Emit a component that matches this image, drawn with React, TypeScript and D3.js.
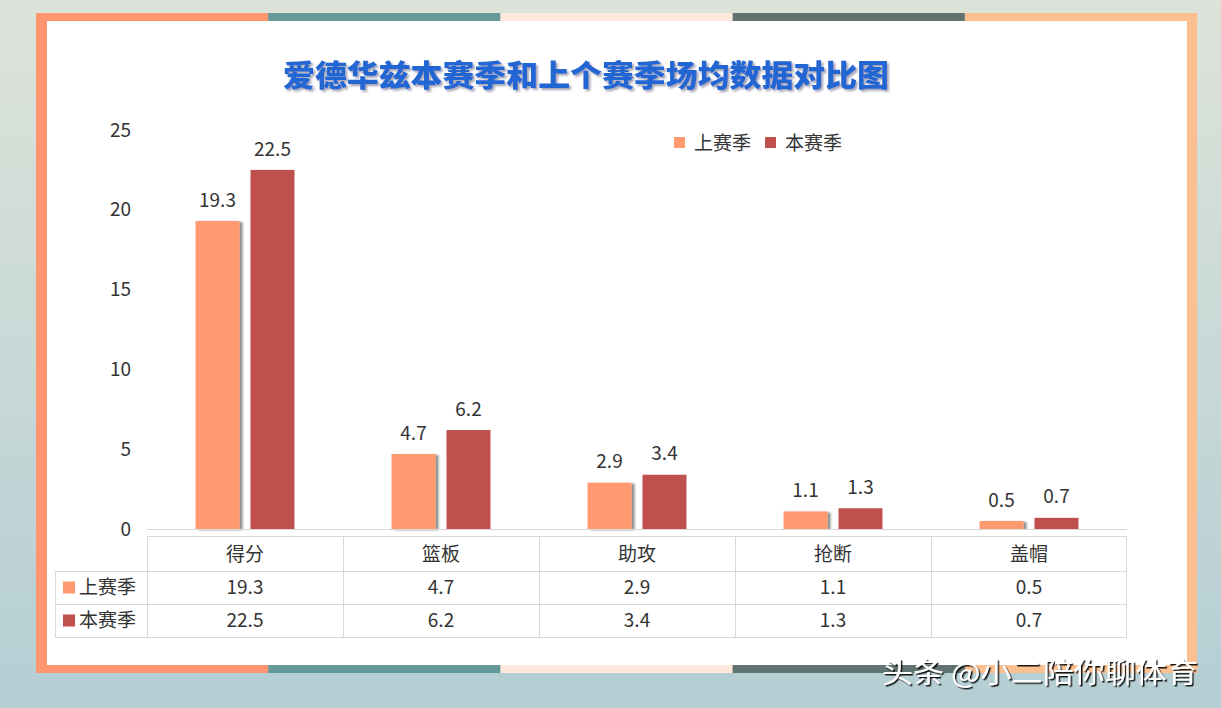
import React from "react";
import * as d3 from "d3";

const categories = ["得分", "篮板", "助攻", "抢断", "盖帽"];
const seriesNames = ["上赛季", "本赛季"];
const lastSeason = [19.3, 4.7, 2.9, 1.1, 0.5];
const thisSeason = [22.5, 6.2, 3.4, 1.3, 0.7];
const yTicks = [0, 5, 10, 15, 20, 25];
const title = "爱德华兹本赛季和上个赛季场均数据对比图";
const watermark = "头条 @小二陪你聊体育";

const W = 1221;
const H = 708;
const colors = ["#ff9970", "#c0504d"];
const frameColors = ["#ff9670", "#659a99", "#ffe9dc", "#617371", "#fbbf90"];
const FONT = "'Noto Sans CJK SC', 'Microsoft YaHei', sans-serif";

export default function App() {
  const plotLeft = 147;
  const plotRight = 1127;
  const plotTop = 130;
  const plotBottom = 529;

  const x = d3.scaleBand<string>().domain(categories).range([plotLeft, plotRight]);
  const x1 = d3
    .scaleBand<string>()
    .domain(seriesNames)
    .range([0, 99])
    .paddingInner(0.2);
  const groupOffset = (x.bandwidth() - 99) / 2;
  const y = d3.scaleLinear().domain([0, 25]).range([plotBottom, plotTop]);
  const series = [lastSeason, thisSeason];

  const frameX0 = 36;
  const frameX1 = 1197;
  const segW = (frameX1 - frameX0) / 5;

  const tableTop = 536;
  const rowH = [35, 33, 33];
  const rowY = [tableTop, tableTop + rowH[0], tableTop + rowH[0] + rowH[1], tableTop + rowH[0] + rowH[1] + rowH[2]];
  const labelColLeft = 55;
  const gridColor = "#d9d9d9";

  return (
    <svg
      width={W}
      height={H}
      style={{ position: "absolute", left: 0, top: 0, display: "block" }}
      fontFamily={FONT}
    >
      <defs>
        <linearGradient id="bg" x1="0" y1="0" x2="0" y2="1">
          <stop offset="0" stopColor="#dde3d9" />
          <stop offset="1" stopColor="#b4ced4" />
        </linearGradient>
        <filter id="barShadow" x="-20%" y="-5%" width="150%" height="110%">
          <feDropShadow dx="3" dy="1" stdDeviation="1.2" floodColor="#000" floodOpacity="0.45" />
        </filter>
        <filter id="titleShadow" x="-5%" y="-20%" width="110%" height="150%">
          <feDropShadow dx="2" dy="2" stdDeviation="0.8" floodColor="#555577" floodOpacity="0.55" />
        </filter>
        <filter id="wmShadow" x="-5%" y="-20%" width="110%" height="150%">
          <feDropShadow dx="1.5" dy="1.5" stdDeviation="0.6" floodColor="#000" floodOpacity="0.9" />
        </filter>
      </defs>
      <rect x={0} y={0} width={W} height={H} fill="url(#bg)" />

      {/* frame */}
      {frameColors.map((c, i) => (
        <g key={"f" + i}>
          <rect x={frameX0 + i * segW} y={13} width={segW + 0.5} height={8} fill={c} />
          <rect x={frameX0 + i * segW} y={665} width={segW + 0.5} height={8} fill={c} />
        </g>
      ))}
      <rect x={frameX0} y={13} width={11} height={660} fill={frameColors[0]} />
      <rect x={1187} y={13} width={10} height={660} fill={frameColors[4]} />
      <rect x={47} y={21} width={1140} height={644} fill="#ffffff" />

      {/* title */}
      <text
        x={283}
        y={86}
        fontSize={30}
        fontWeight={900}
        fill="#2466d4"
        textLength={606}
        lengthAdjust="spacingAndGlyphs"
        filter="url(#titleShadow)"
      >
        {title}
      </text>

      {/* y axis labels */}
      {yTicks.map((t) => (
        <text
          key={"yt" + t}
          x={131}
          y={y(t)}
          dy="0.35em"
          textAnchor="end"
          fontSize={19}
          fill="#333"
        >
          {t}
        </text>
      ))}

      {/* bars */}
      {categories.map((c, ci) => (
        <g key={"bar" + c}>
          {series.map((s, si) => {
            const bx = (x(c) as number) + groupOffset + (x1(seriesNames[si]) as number);
            const by = y(s[ci]);
            return (
              <g key={si}>
                <rect
                  x={bx}
                  y={by}
                  width={x1.bandwidth()}
                  height={plotBottom - by}
                  fill={colors[si]}
                  filter={si === 0 ? "url(#barShadow)" : undefined}
                />
                <text
                  x={bx + x1.bandwidth() / 2}
                  y={by - 21}
                  dy="0.35em"
                  textAnchor="middle"
                  fontSize={19}
                  fill="#333"
                >
                  {s[ci]}
                </text>
              </g>
            );
          })}
        </g>
      ))}

      {/* axis line */}
      <line x1={plotLeft} x2={plotRight} y1={plotBottom + 0.5} y2={plotBottom + 0.5} stroke={gridColor} strokeWidth={1} />

      {/* legend */}
      {seriesNames.map((n, i) => {
        const lx = [674, 765][i];
        return (
          <g key={"lg" + n}>
            <rect x={lx} y={137} width={11} height={11} fill={colors[i]} />
            <text x={lx + 20} y={143} dy="0.35em" fontSize={19} fill="#333">
              {n}
            </text>
          </g>
        );
      })}

      {/* data table */}
      <g stroke={gridColor} strokeWidth={1} fill="none">
        {/* horizontal lines */}
        <line x1={plotLeft} x2={plotRight} y1={rowY[0] + 0.5} y2={rowY[0] + 0.5} />
        <line x1={labelColLeft} x2={plotRight} y1={rowY[1] + 0.5} y2={rowY[1] + 0.5} />
        <line x1={labelColLeft} x2={plotRight} y1={rowY[2] + 0.5} y2={rowY[2] + 0.5} />
        <line x1={labelColLeft} x2={plotRight} y1={rowY[3] + 0.5} y2={rowY[3] + 0.5} />
        {/* vertical lines */}
        <line x1={labelColLeft + 0.5} x2={labelColLeft + 0.5} y1={rowY[1]} y2={rowY[3]} />
        {categories.map((c) => (
          <line key={"v" + c} x1={(x(c) as number) + 0.5} x2={(x(c) as number) + 0.5} y1={rowY[0]} y2={rowY[3]} />
        ))}
        <line x1={plotRight - 0.5} x2={plotRight - 0.5} y1={rowY[0]} y2={rowY[3]} />
      </g>
      {categories.map((c) => (
        <text
          key={"h" + c}
          x={(x(c) as number) + x.bandwidth() / 2}
          y={(rowY[0] + rowY[1]) / 2 + 1}
          dy="0.35em"
          textAnchor="middle"
          fontSize={19}
          fill="#333"
        >
          {c}
        </text>
      ))}
      {series.map((s, si) => (
        <g key={"row" + si}>
          <rect x={63} y={(rowY[si + 1] + rowY[si + 2]) / 2 - 6} width={12} height={12} fill={colors[si]} />
          <text
            x={79}
            y={(rowY[si + 1] + rowY[si + 2]) / 2}
            dy="0.35em"
            fontSize={19}
            fill="#333"
          >
            {seriesNames[si]}
          </text>
          {categories.map((c, ci) => (
            <text
              key={c}
              x={(x(c) as number) + x.bandwidth() / 2}
              y={(rowY[si + 1] + rowY[si + 2]) / 2}
              dy="0.35em"
              textAnchor="middle"
              fontSize={19}
              fill="#333"
            >
              {s[ci]}
            </text>
          ))}
        </g>
      ))}

      {/* watermark */}
      <text
        x={882}
        y={673}
        dy="0.35em"
        fontSize={28}
        fill="#ffffff"
        textLength={316}
        lengthAdjust="spacingAndGlyphs"
        filter="url(#wmShadow)"
      >
        {watermark}
      </text>
    </svg>
  );
}
